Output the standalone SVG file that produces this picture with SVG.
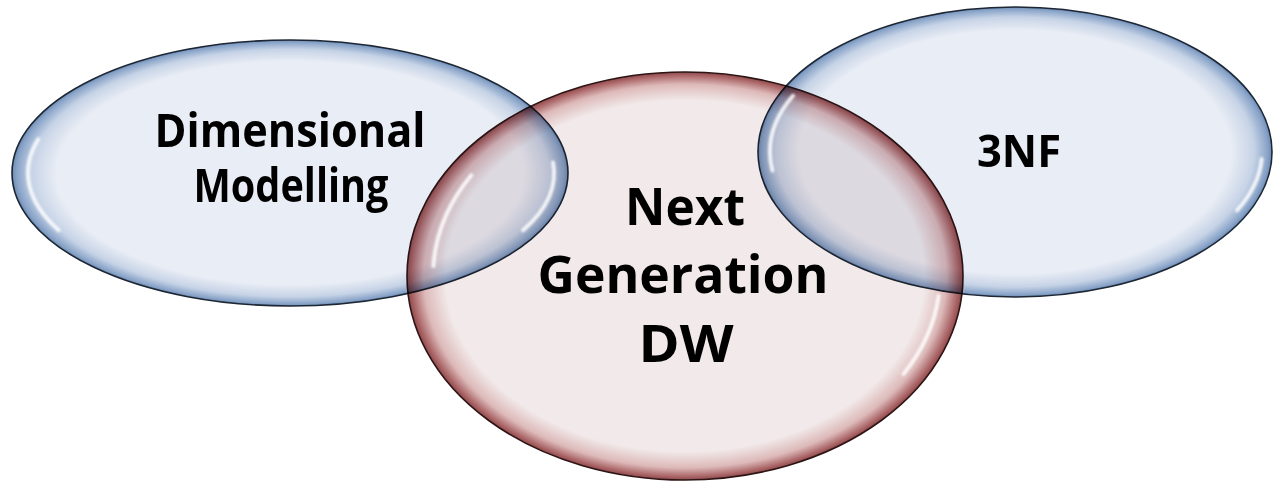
<svg xmlns="http://www.w3.org/2000/svg" width="1274" height="486" viewBox="0 0 1274 486">
  <style>
    .blob { mix-blend-mode: multiply; }
    .blue { fill: url(#gBlue); stroke: #1d2633; stroke-width: 1.6; }
    .red { fill: url(#gRed); stroke: #2e1414; stroke-width: 1.6; }
    .hl { fill: none; stroke: #ffffff; stroke-width: 4; stroke-linecap: round; opacity: 0.85; filter: url(#soft); }
    .lbl { font-family: "Open Sans", "Lato", "Liberation Sans", sans-serif; font-weight: 700; fill: #000000; text-anchor: middle; }
  </style>
  <defs>
    <radialGradient id="gBlue" cx="0.5" cy="0.5" r="0.5">
      <stop offset="0" stop-color="#E9EDF5"/>
      <stop offset="0.84" stop-color="#E9EDF5"/>
      <stop offset="0.93" stop-color="#C6D3E6"/>
      <stop offset="0.985" stop-color="#87A2C7"/>
      <stop offset="1" stop-color="#6A89B4"/>
    </radialGradient>
    <radialGradient id="gRed" cx="0.5" cy="0.5" r="0.5">
      <stop offset="0" stop-color="#F2EAEA"/>
      <stop offset="0.86" stop-color="#F2EAEA"/>
      <stop offset="0.94" stop-color="#DDB9B9"/>
      <stop offset="0.985" stop-color="#A86264"/>
      <stop offset="1" stop-color="#8E4A4C"/>
    </radialGradient>
    <filter id="soft" x="-20%" y="-20%" width="140%" height="140%">
      <feGaussianBlur stdDeviation="1.2"/>
    </filter>
  </defs>

  <rect width="1274" height="486" fill="#ffffff"/>

  <g id="node-dimensional">
    <ellipse class="blob blue" cx="290" cy="173" rx="278" ry="133"/>
  </g>
  <g id="node-nextgen">
    <ellipse class="blob red" cx="685" cy="276" rx="278" ry="204"/>
  </g>
  <g id="node-3nf">
    <ellipse class="blob blue" cx="1015" cy="152" rx="257" ry="145"/>
  </g>

  <g id="highlights">
    <path class="hl" d="M38.2,139.3 A262,122 0 0 0 58.7,230.2"/>
    <path class="hl" d="M553,162.4 A264,122 0 0 1 523.1,230.2"/>
    <path class="hl" d="M471.3,175.3 A252,190 0 0 0 433.4,266.1"/>
    <path class="hl" d="M938.6,295.9 A255,190 0 0 1 903.6,373.9"/>
    <path class="hl" d="M793,95.8 A245,133 0 0 0 772.4,170.5"/>
    <path class="hl" d="M1261.7,159 A247,133 0 0 1 1237,210.3"/>
  </g>

  <g id="connectors"></g>

  <g id="labels">
    <text class="lbl" x="290" y="147" font-size="46" textLength="271" lengthAdjust="spacingAndGlyphs">Dimensional</text>
    <text class="lbl" x="291" y="202" font-size="46" textLength="195" lengthAdjust="spacingAndGlyphs">Modelling</text>
    <text class="lbl" x="685" y="225" font-size="52" textLength="120" lengthAdjust="spacingAndGlyphs">Next</text>
    <text class="lbl" x="683" y="293" font-size="52" textLength="291" lengthAdjust="spacingAndGlyphs">Generation</text>
    <text class="lbl" x="686" y="362" font-size="52" textLength="95" lengthAdjust="spacingAndGlyphs">DW</text>
    <text class="lbl" x="1019" y="167" font-size="45" textLength="84" lengthAdjust="spacingAndGlyphs">3NF</text>
  </g>
</svg>
